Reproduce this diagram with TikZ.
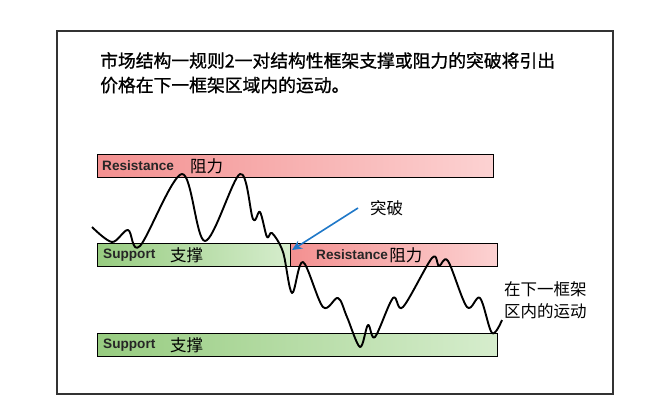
\documentclass[tikz,border=0pt]{standalone}
\usepackage{fontspec}
\setmainfont{Liberation Sans}
\newfontfamily\cjk{Noto Sans CJK SC}
\newfontfamily\cjkmid[FakeBold=1]{Noto Sans CJK SC}
\usetikzlibrary{positioning, arrows.meta}
\definecolor{resred}{HTML}{F39090}
\definecolor{resredlight}{HTML}{FCD2D2}
\definecolor{supgreen}{HTML}{97CC80}
\definecolor{supgreenlight}{HTML}{D6EDCD}
\definecolor{arrowblue}{HTML}{1F78C8}
\tikzset{
	barnode/.style={
			shape=rectangle,
			draw=black,
			semithick,
			anchor=north west,
			minimum height=23pt,
			inner sep=0pt
		},
	resbar/.style={
			barnode,
			left color=resred,
			right color=resredlight
		},
	supbar/.style={
			barnode,
			left color=supgreen,
			right color=supgreenlight
		},
	enlabel/.style={
			font=\fontsize{13.6}{15}\selectfont\bfseries,
			text=black!85,
			inner sep=0pt,
			anchor=west
		},
	cnlabel/.style={
			font=\fontsize{16.5}{18}\selectfont\cjk,
			inner sep=0pt,
			anchor=west
		}
}

\begin{document}
\begin{tikzpicture}[x=1pt, y=-1pt]

              \useasboundingbox (0,0) rectangle (651,405);
              \fill[white] (0,0) rectangle (651,405);
              \draw[black!80, line width=1.3pt] (57,31) rectangle (613,394);

              \node[anchor=north west, inner sep=0pt, align=left,
                    font=\fontsize{17.8}{24.5}\selectfont\cjkmid] (title) at (100,52)
                    {市场结构一规则2一对结构性框架支撑或阻力的突破将引出\\价格在下一框架区域内的运动。};

              % bars
              \node[resbar, minimum width=396pt] (r1) at (97,154) {};
              \node[supbar, minimum width=193pt] (s1) at (97,243) {};
              \node[resbar, minimum width=207pt] (r2) at (290,243) {};
              \node[supbar, minimum width=400pt] (s2) at (97,333) {};

              \node[enlabel] (r1en) at (102,166) {Resistance};
              \node[cnlabel] (r1cn) at (190,166) {阻力};
              \node[enlabel] (s1en) at (103,255) {Support};
              \node[cnlabel] (s1cn) at (170,255) {支撑};
              \node[enlabel] (r2en) at (316,255) {Resistance};
              \node[cnlabel, right=1pt of r2en] (r2cn) {阻力};
              \node[enlabel] (s2en) at (103,345) {Support};
              \node[cnlabel] (s2cn) at (170,345) {支撑};

              % price
              \draw[black, line width=1.9pt, line join=round] plot[smooth, tension=0.55] coordinates {
                (92,227) (112,242) (128,230) (140,246) (182,174) (205,241) (240,174)
                (253,219) (260,212) (267,237) (272,233) (283,252) (292,293) (303,262)
                (323,307) (338,298) (347,317) (360,347) (368,325) (375,337) (393,298)
                (403,307) (432,258) (439,266) (448,261) (467,307) (480,298) (492,333) (502,320)
              };

              \node[cnlabel] (brk) at (370,208) {突破};
              \coordinate (brkpt) at (292,250);
              \draw[arrowblue, line width=1.6pt, -{Stealth[length=10pt, width=9pt]}]
                ([xshift=-12pt]brk.west) -- (brkpt);

              \node[cnlabel, align=left, anchor=north west,
                    font=\fontsize{16.5}{22}\selectfont\cjk] (move) at (504,281) {在下一框架\\区内的运动};

            \end{tikzpicture}
\end{document}
